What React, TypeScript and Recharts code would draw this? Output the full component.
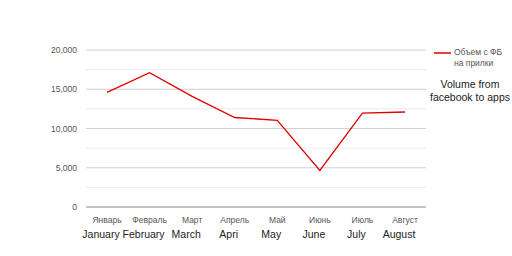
import React from "react";
import {
  LineChart,
  Line,
  XAxis,
  YAxis,
  CartesianGrid,
} from "recharts";

// Month labels (Russian on axis, English caption underneath)
const monthsRu = ["Январь", "Февраль", "Март", "Апрель", "Май", "Июнь", "Июль", "Август"];
const monthsEn = ["January", "February", "March", "Apri", "May", "June", "July", "August"];
const volume = [14600, 17100, 14100, 11400, 11050, 4650, 11950, 12100];

const yTicks = [0, 5000, 10000, 15000, 20000];
const minorLines = [2500, 7500, 12500, 17500];
const majorLines = [5000, 10000, 15000, 20000];

const seriesName = "Объем с ФБ на прилки";
const captionLines = ["Volume from", "facebook to apps"];

const data = monthsRu.map((m, i) => ({ ru: m, en: monthsEn[i], volume: volume[i] }));

const font = "Arial, Liberation Sans, sans-serif";

const MonthTick = (props: any) => {
  const { x, y, payload } = props;
  const en = monthsEn[payload.index] ?? "";
  return (
    <g>
      <text x={x} y={y + 8} textAnchor="middle" fontSize={8.5} fill="#555" fontFamily={font}>
        {payload.value}
      </text>
      <text x={x - 6} y={y + 23} textAnchor="middle" fontSize={10.5} fill="#222" fontFamily={font}>
        {en}
      </text>
    </g>
  );
};

const LegendBox = () => (
  <div style={{ position: "absolute", left: 432, top: 47, width: 80, fontFamily: font }}>
    <div style={{ display: "flex", alignItems: "flex-start" }}>
      <svg width={20} height={10} style={{ marginTop: 1 }}>
        <line x1={2} y1={5} x2={19} y2={5} stroke="#e00000" strokeWidth={1.5} />
      </svg>
      <div style={{ fontSize: 8.5, color: "#555", lineHeight: "11px", marginLeft: 2, width: 56 }}>
        {seriesName}
      </div>
    </div>
    <div style={{ fontSize: 10.5, color: "#222", lineHeight: "13px", textAlign: "center", marginTop: 9, marginLeft: -3, width: 82, whiteSpace: "nowrap" }}>
      {captionLines.map((l) => (
        <div key={l}>{l}</div>
      ))}
    </div>
  </div>
);

export default function App() {
  return (
    <div style={{ position: "absolute", left: 0, top: 0, width: 512, height: 256, background: "#fff", overflow: "hidden" }}>
      <LineChart
        width={512}
        height={256}
        data={data}
        margin={{ top: 50, right: 86, left: 6, bottom: 19 }}
      >
        <CartesianGrid horizontalValues={minorLines} vertical={false} stroke="#ececec" />
        <CartesianGrid horizontalValues={majorLines} vertical={false} stroke="#d0d0d0" />
        <XAxis
          dataKey="ru"
          tick={<MonthTick />}
          tickLine={false}
          axisLine={{ stroke: "#c4c4c4", strokeWidth: 2 }}
          interval={0}
          height={30}
          padding={{ left: 21, right: 21 }}
        />
        <YAxis
          domain={[0, 20000]}
          ticks={yTicks}
          width={80}
          tickLine={false}
          axisLine={false}
          tickSize={0}
          tickMargin={9}
          tickFormatter={(v: number) => v.toLocaleString("en-US")}
          tick={{ fontSize: 8.5, fill: "#555", fontFamily: font }}
        />
        <Line
          type="linear"
          dataKey="volume"
          name={seriesName}
          stroke="#e00000"
          strokeWidth={1.3}
          dot={false}
          isAnimationActive={false}
        />
      </LineChart>
      <LegendBox />
    </div>
  );
}
